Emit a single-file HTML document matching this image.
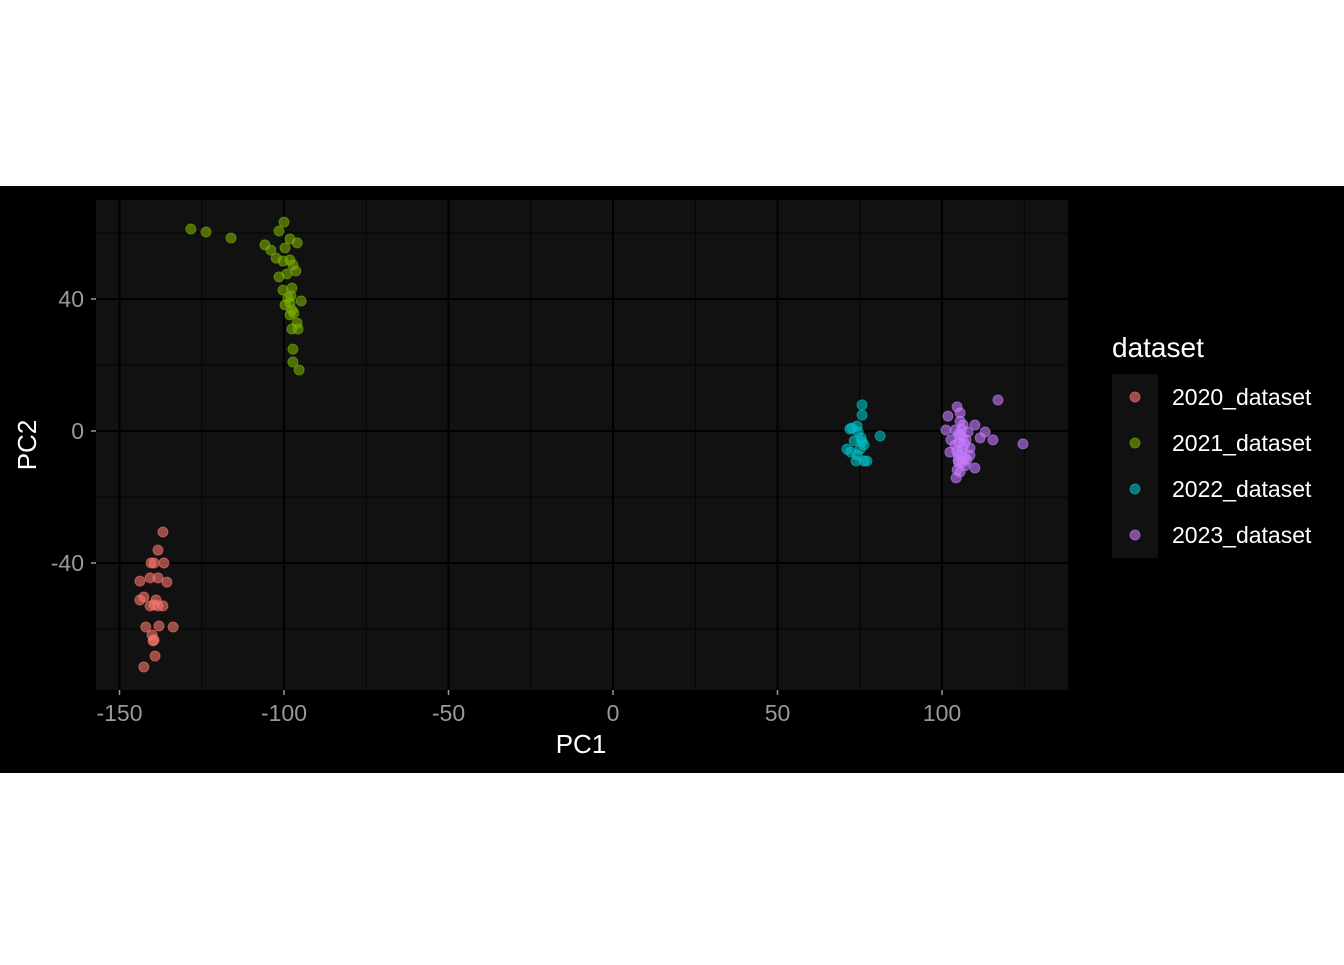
<!DOCTYPE html>
<html><head><meta charset="utf-8"><style>
body{margin:0;background:#fff;width:1344px;height:960px;overflow:hidden;font-family:"Liberation Sans",Arial,sans-serif}
</style></head><body>
<svg id="chart" width="1344" height="960" xmlns="http://www.w3.org/2000/svg" style="font-family:'Liberation Sans',Arial,sans-serif">
<rect x="0" y="186" width="1344" height="587" fill="#000"/>
<rect x="96" y="200" width="972" height="490" fill="#111111"/>
<g id="grid"></g>
<g id="points"></g>
<g id="axes"></g>
<text x="581" y="753" fill="#fff" font-size="26" text-anchor="middle">PC1</text>
<text transform="translate(36,445) rotate(-90)" fill="#fff" font-size="26" text-anchor="middle">PC2</text>
<text x="1112" y="357" fill="#fff" font-size="28">dataset</text>
<rect x="1112" y="374" width="46" height="184" fill="#111111"/>
<g id="legend"></g>
</svg>
<script>
const xTicks=[-150,-100,-50,0,50,100];
const xMinor=[-125,-75,-25,25,75,125];
const yTicks=[40,0,-40];
const yMinor=[60,20,-20,-60];
const seriesNames=["2020_dataset","2021_dataset","2022_dataset","2023_dataset"];
const seriesColors=["#F8766D","#7CAE00","#00BFC4","#C77CFF"];
const pc1_2020=[-136.8,-138.3,-140.4,-139.5,-136.5,-143.8,-140.7,-138.3,-135.6,-142.6,-138.9,-139.5,-138.3,-136.8,-142,-138,-133.7,-140.1,-139.8,-139.5,-139.2,-142.6,-140.7,-143.8];
const pc2_2020=[-30.6,-36.1,-40,-40,-40,-45.5,-44.5,-44.5,-45.8,-50.3,-51.2,-52.7,-53,-53,-59.4,-59.1,-59.4,-61.8,-63.6,-63.3,-68.2,-71.5,-53,-51.2];
const pc1_2021=[-128.3,-123.7,-116.1,-100,-101.5,-98.2,-105.8,-104,-99.7,-102.4,-100.3,-98.2,-97.3,-101.5,-99.1,-96.4,-100.3,-97.6,-94.8,-98.2,-97.6,-97,-98.2,-96,-97.6,-95.7,-97.3,-97.3,-95.4,-98.8,-99.7,-97.9,-96];
const pc2_2021=[61.2,60.3,58.5,63.3,60.6,58.2,56.4,54.8,55.5,52.4,51.5,51.8,50.3,46.7,47.6,48.5,42.7,43.3,39.4,38.8,36.7,35.8,35.2,32.7,30.9,30.9,24.8,20.9,18.5,40.3,38.2,40.9,57];
const pc1_2022=[75.7,75.7,74.2,72,74.5,75.4,73.3,75.7,72.3,74.2,73.9,76.3,77.2,81.2,71.1,75.1,72.6,76.3];
const pc2_2022=[7.9,4.8,1.5,0.6,-0.3,-2.1,-3,-3.3,-6.4,-7.3,-9.1,-9.1,-9.1,-1.5,-5.5,-5.5,0.9,-4.2];
const pc1_2023=[117,104.6,105.5,101.8,106.4,110,113.1,115.5,124.6,101.2,102.7,104,105.5,107.9,107.3,102.4,104.9,107,108.5,106.1,110,104.6,105.5,104.3,104,106.4,108.5,104.9,111.6,107.6,105,106,105.2,106.8,104.5,105.8,106.2,105,107,105.5];
const pc2_2023=[9.4,7.3,5.5,4.5,1.8,1.8,-0.3,-2.7,-3.9,0.3,-2.7,0.3,-1.2,-0.3,-2.7,-6.4,-7.3,-8.2,-7.3,-9.4,-11.2,-11.8,-12.4,-14.2,-4.2,-5.2,-5.2,-8.8,-2.1,-8.8,-1,0.5,-3.5,-4,-6,-7,-2,-9.5,-10.5,3];
const seriesX=[pc1_2020,pc1_2021,pc1_2022,pc1_2023];
const seriesY=[pc2_2020,pc2_2021,pc2_2022,pc2_2023];

const NS="http://www.w3.org/2000/svg";
const X0=96,X1=1068,Y0=200,Y1=690;
function sx(v){return 613+v*3.29;}
function sy(v){return 431-v*3.3;}
function mk(t,a,p){const e=document.createElementNS(NS,t);for(const k in a)e.setAttribute(k,a[k]);p.appendChild(e);return e;}
const grid=document.getElementById('grid'),axes=document.getElementById('axes'),pts=document.getElementById('points'),leg=document.getElementById('legend');
xMinor.forEach(v=>{const l=mk('line',{x1:sx(v),x2:sx(v),y1:Y0,y2:Y1,stroke:'#000','stroke-width':0.8},grid);

});
yMinor.forEach(v=>{const l=mk('line',{x1:X0,x2:X1,y1:sy(v),y2:sy(v),stroke:'#000','stroke-width':0.8},grid);

});
xTicks.forEach(v=>{const l=mk('line',{x1:sx(v),x2:sx(v),y1:Y0,y2:Y1,stroke:'#000','stroke-width':2},grid);


const t=mk('line',{x1:sx(v),x2:sx(v),y1:Y1,y2:Y1+5,stroke:'#999','stroke-width':1.5},axes);


const tx=mk('text',{x:sx(v),y:Y1+31,fill:'#999','font-size':23,'text-anchor':'middle'},axes);tx.textContent=v;

});
yTicks.forEach(v=>{const l=mk('line',{x1:X0,x2:X1,y1:sy(v),y2:sy(v),stroke:'#000','stroke-width':2},grid);


const t=mk('line',{x1:X0-5,x2:X0,y1:sy(v),y2:sy(v),stroke:'#999','stroke-width':1.5},axes);


const tx=mk('text',{x:X0-12,y:sy(v)+8,fill:'#999','font-size':23,'text-anchor':'end'},axes);tx.textContent=v;

});
seriesX.forEach((xs,i)=>{xs.forEach((x,j)=>{const c=mk('circle',{cx:sx(x),cy:sy(seriesY[i][j]),r:5,fill:seriesColors[i],'fill-opacity':0.6,stroke:seriesColors[i],'stroke-opacity':0.6,'stroke-width':1},pts);

});
const y=397+i*46;
const lc=mk('circle',{cx:1135,cy:y,r:5,fill:seriesColors[i],'fill-opacity':0.6,stroke:seriesColors[i],'stroke-opacity':0.6},leg);


const lt=mk('text',{x:1172,y:y+8,fill:'#fff','font-size':23},leg);lt.textContent=seriesNames[i];

});
</script>
</body></html>
